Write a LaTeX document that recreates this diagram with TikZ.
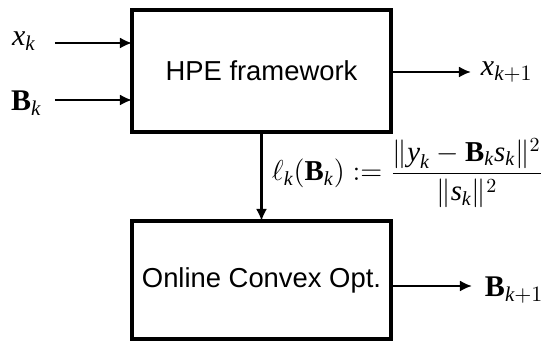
\documentclass[tikz,border=0pt]{standalone}
\usepackage{fontspec}
\setmainfont{Liberation Serif}
\setsansfont{Liberation Sans}
\usepackage{amsmath}
\usetikzlibrary{arrows.meta}

% italic Times-like letters for the formulas
\newcommand{\vx}{\textit{x}}
\newcommand{\vy}{\textit{y}}
\newcommand{\vs}{\textit{s}}
\newcommand{\vk}{\textit{k}}

\tikzset{
  block/.style={draw, line width=1.75pt, inner sep=0pt, outer sep=0pt,
    minimum width=129.5pt, minimum height=61pt,
    font=\sffamily\fontsize{13.7}{16}\selectfont},
  arr/.style={line width=1.15pt, -{Latex[length=6pt,width=5.5pt]}},
  lab/.style={inner sep=0pt, outer sep=0pt, font=\fontsize{15}{18}\selectfont},
}

\begin{document}
\begin{tikzpicture}[x=0.5pt,y=-0.5pt]
  \useasboundingbox (0,0) rectangle (543,342);

  % the two processing blocks
  \node[block] (hpe) at (261.5,71) {HPE framework};
  \node[block, minimum height=59pt] (oco) at (261.5,280) {Online Convex Opt.};

  % inputs of the HPE block
  \node[lab, anchor=base west] (xk) at (12,46) {$\vx_\vk$};
  \node[lab, anchor=base west] (bk) at (11,111) {$\mathbf{B}_\vk$};
  \coordinate (xin) at (55,43);
  \coordinate (bin) at (55,100);
  \draw[arr] (xin) -- (xin -| hpe.west);
  \draw[arr] (bin) -- (bin -| hpe.west);

  % output of the HPE block
  \node[lab, anchor=base west] (xnext) at (481,76) {$\vx_{\vk+1}$};
  \coordinate (xout) at (471,72);
  \draw[arr] (xout -| hpe.east) -- (xout);

  % loss handed to the online convex optimisation
  \draw[arr] (hpe.south) -- (oco.north);
  \node[lab, anchor=base west, font=\fontsize{14.4}{17}\selectfont] (loss) at (272,181)
    {$\displaystyle \ell_\vk(\mathbf{B}_\vk) \mathrel{:=} \frac{\|\vy_\vk - \mathbf{B}_\vk \vs_\vk\|^2}{\|\vs_\vk\|^2}$};

  % output of the online convex optimisation block
  \node[lab, anchor=base west] (bnext) at (485,297) {$\mathbf{B}_{\vk+1}$};
  \coordinate (bout) at (472,286);
  \draw[arr] (bout -| oco.east) -- (bout);
\end{tikzpicture}
\end{document}
